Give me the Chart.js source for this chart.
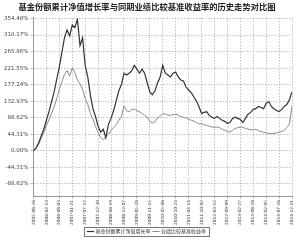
<!DOCTYPE html>
<html>
<head>
<meta charset="utf-8">
<script src="https://cdn.jsdelivr.net/npm/chart.js@4"></script>
<style>
  html, body { margin: 0; padding: 0; background: #fff; }
  #wrap { width: 300px; height: 244px; }
</style>
</head>
<body>
<div id="wrap"><canvas id="chart" width="300" height="244"></canvas></div>
<script>
const titleText = "基金份额累计净值增长率与同期业绩比较基准收益率的历史走势对比图";
const seriesNames = ["基金份额累计净值增长率", "业绩比较基准收益率"];
const tickLabels = ["2005-08-26", "2006-02-13", "2006-08-03", "2007-01-21", "2007-07-12", "2007-12-30",
  "2008-06-19", "2008-12-07", "2009-05-28", "2009-11-15", "2010-05-06", "2010-10-24", "2011-04-14",
  "2011-10-02", "2012-03-22", "2012-09-09", "2013-02-27", "2013-08-18", "2014-02-05", "2014-07-26", "2014-12-31"];
const yTicks = [-88.62, -44.31, 0, 44.31, 88.62, 132.93, 177.24, 221.55, 265.86, 310.17, 354.48];

// fund cumulative NAV growth (%), 5 points per tick interval
const fundValues = [0, 8, 21, 40, 58, 82, 105, 132, 158, 192,
  224, 264, 303, 324, 308, 337, 330, 352, 282, 303,
  229, 198, 150, 113, 92, 66, 50, 58, 35, 71,
  87, 108, 134, 161, 177, 208, 203, 208, 214, 229,
  219, 208, 219, 208, 182, 158, 150, 161, 182, 198,
  229, 208, 203, 198, 208, 211, 198, 190, 187, 171,
  163, 156, 145, 134, 119, 100, 103, 105, 95, 90,
  87, 92, 87, 82, 79, 74, 76, 87, 90, 87,
  84, 76, 87, 98, 103, 111, 113, 119, 116, 113,
  127, 132, 119, 113, 108, 105, 111, 119, 124, 137, 158];
// benchmark return (%)
const benchValues = [0, 6, 18, 34, 50, 68, 84, 100, 118, 140,
  165, 185, 205, 215, 200, 222, 210, 190, 180, 165,
  140, 125, 100, 85, 65, 50, 35, 30, 38, 45,
  55, 62, 70, 82, 92, 120, 108, 105, 110, 112,
  108, 105, 100, 95, 90, 80, 75, 78, 88, 92,
  100, 98, 96, 95, 97, 98, 96, 92, 90, 88,
  85, 82, 80, 76, 72, 73, 70, 68, 66, 64,
  63, 64, 62, 58, 55, 52, 50, 55, 60, 62,
  64, 63, 60, 58, 57, 56, 58, 54, 52, 50,
  48, 47, 46, 46, 48, 50, 52, 55, 62, 72, 120];

const pointsPerTick = 5;
const toXY = arr => arr.map((v, i) => ({ x: i, y: v }));

const legendBox = {
  id: 'legendBox',
  afterDraw(chart) {
    const lg = chart.legend;
    if (!lg || !lg.legendHitBoxes.length) return;
    const boxes = lg.legendHitBoxes;
    const x0 = boxes[0].left - 4;
    const x1 = boxes[boxes.length - 1].left + boxes[boxes.length - 1].width + 3;
    const y0 = boxes[0].top - 2;
    const h = boxes[0].height + 4;
    const ctx = chart.ctx;
    ctx.save();
    ctx.strokeStyle = '#777';
    ctx.lineWidth = 1;
    ctx.strokeRect(Math.round(x0) + 0.5, Math.round(y0) + 0.5, Math.round(x1 - x0), Math.round(h));
    ctx.restore();
  }
};

new Chart(document.getElementById('chart'), {
  type: 'line',
  data: {
    datasets: [{
      label: seriesNames[0],
      data: toXY(fundValues),
      borderColor: '#333',
      backgroundColor: '#333',
      borderWidth: 1.2,
      pointRadius: 0,
      tension: 0,
      fill: false
    }, {
      label: seriesNames[1],
      data: toXY(benchValues),
      borderColor: '#8a8a8a',
      backgroundColor: '#8a8a8a',
      borderWidth: 1,
      pointRadius: 0,
      tension: 0,
      fill: false
    }]
  },
  options: {
    responsive: false,
    animation: false,
    layout: { padding: { left: 2, right: 8, top: 0, bottom: 0 } },
    plugins: {
      title: {
        display: true,
        text: titleText,
        color: '#222',
        font: { family: "'Noto Sans CJK SC'", size: 8.3, weight: 'bold' },
        padding: { top: 2, bottom: 6 }
      },
      legend: {
        position: 'bottom',
        labels: {
          usePointStyle: true,
          pointStyle: 'line',
          boxWidth: 10,
          boxHeight: 5,
          padding: 3,
          color: '#333',
          font: { family: "'Noto Sans CJK SC'", size: 5 }
        }
      },
      tooltip: { enabled: false }
    },
    scales: {
      x: {
        type: 'linear',
        min: 0,
        max: fundValues.length - 1,
        afterBuildTicks: axis => {
          axis.ticks = tickLabels.map((t, i) => ({ value: i * pointsPerTick }));
        },
        ticks: {
          autoSkip: false,
          maxRotation: 90,
          minRotation: 90,
          padding: 1,
          color: '#444',
          font: { family: 'DejaVu Sans', size: 4.3 },
          callback: v => tickLabels[Math.round(v / pointsPerTick)]
        },
        grid: { color: '#b0b0b0', lineWidth: 0.8, tickLength: 3 },
        border: { color: '#999', dash: [1.5, 1.5] }
      },
      y: {
        min: -121,
        max: 356,
        afterBuildTicks: axis => {
          axis.ticks = yTicks.map(v => ({ value: v }));
        },
        ticks: {
          color: '#444',
          padding: 2,
          font: { family: 'DejaVu Sans', size: 5.5 },
          callback: v => v.toFixed(2) + '%'
        },
        grid: { color: '#b0b0b0', lineWidth: 0.8, tickLength: 3 },
        border: { color: '#999', dash: [1.5, 1.5] }
      }
    }
  },
  plugins: [legendBox]
});
</script>
</body>
</html>
